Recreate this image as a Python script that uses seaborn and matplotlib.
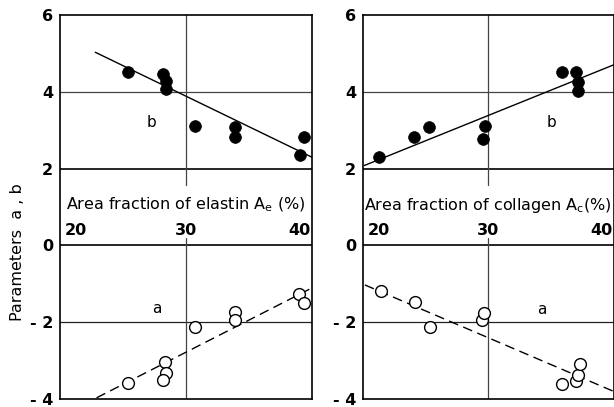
import matplotlib
matplotlib.use("Agg")
import matplotlib.pyplot as plt
import seaborn as sns
import pandas as pd

# ---- data: elastin panel ----
elastin_b_x = [25.4, 28.2, 28.4, 28.4, 30.7, 33.9, 33.9, 39.05, 39.4]
elastin_b_y = [4.51, 4.46, 4.28, 4.07, 3.12, 3.09, 2.81, 2.35, 2.83]
elastin_a_x = [25.4, 28.3, 28.4, 28.2, 30.7, 33.9, 33.9, 39.0, 39.4]
elastin_a_y = [-3.58, -3.04, -3.33, -3.51, -2.13, -1.74, -1.94, -1.27, -1.51]
elastin_b_fit_x = [22.8, 40.1]
elastin_b_fit_y = [5.03, 2.28]
elastin_a_fit_x = [22.9, 40.1]
elastin_a_fit_y = [-3.97, -1.09]

# ---- data: collagen panel ----
collagen_b_x = [21.3, 24.07, 25.24, 29.55, 29.74, 35.85, 37.04, 37.17, 37.2]
collagen_b_y = [2.29, 2.81, 3.08, 2.76, 3.12, 4.51, 4.52, 4.26, 4.03]
collagen_a_x = [21.4, 24.13, 25.37, 29.5, 29.68, 35.9, 37.04, 37.17, 37.3]
collagen_a_y = [-1.18, -1.47, -2.13, -1.94, -1.77, -3.61, -3.53, -3.375, -3.09]
collagen_b_fit_x = [20.1, 40.0]
collagen_b_fit_y = [2.08, 4.70]
collagen_a_fit_x = [20.15, 40.0]
collagen_a_fit_y = [-1.03, -3.80]

y_ticks = [6, 4, 2, 0, -2, -4]
y_tick_labels = ["6", "4", "2", "0", "- 2", "- 4"]
x_tick_values = [20, 30, 40]
x_tick_labels = ["20", "30", "40"]
x_labels = ["Area fraction of elastin A$_\\mathregular{e}$ (%)",
            "Area fraction of collagen A$_\\mathregular{c}$(%)"]
y_label = "Parameters  a , b"

sns.set_style("white")
plt.rcParams["font.family"] = ["DejaVu Sans"]
plt.rcParams["text.color"] = "black"
plt.rcParams["ytick.color"] = "black"
plt.rcParams["ytick.labelcolor"] = "black"

fig = plt.figure(figsize=(6.14, 4.07), dpi=100)
W, H = 614, 407
bottom = (H - 399) / H
height = 384 / H
ax1 = fig.add_axes([60 / W, bottom, 252 / W, height])
ax2 = fig.add_axes([363 / W, bottom, 250.5 / W, height])

panels = [
    (ax1, elastin_b_x, elastin_b_y, elastin_a_x, elastin_a_y,
     elastin_b_fit_x, elastin_b_fit_y, elastin_a_fit_x, elastin_a_fit_y,
     (27.3, 3.2), (27.7, -1.64)),
    (ax2, collagen_b_x, collagen_b_y, collagen_a_x, collagen_a_y,
     collagen_b_fit_x, collagen_b_fit_y, collagen_a_fit_x, collagen_a_fit_y,
     (35.05, 3.2), (34.3, -1.66)),
]

for i, (ax, bx, by, axx, ay, bfx, bfy, afx, afy, bpos, apos) in enumerate(panels):
    ax.set_xlim(20, 40)
    ax.set_ylim(-4, 6)
    # grid-like reference lines
    ax.axhline(4, color="#444444", lw=0.9, zorder=1)
    ax.axhline(-2, color="#222222", lw=0.9, zorder=1)
    ax.axhline(2, color="black", lw=1.2, zorder=1)
    ax.axhline(0, color="black", lw=1.2, zorder=1)
    ax.plot([30, 30], [6, 1.57], color="#444444", lw=0.9, zorder=1)
    ax.plot([30, 30], [0.2, -4], color="#444444", lw=0.9, zorder=1)

    sns.lineplot(x=bfx, y=bfy, ax=ax, color="black", lw=1.0, zorder=2)
    sns.lineplot(x=afx, y=afy, ax=ax, color="black", lw=1.0, zorder=2,
                 dashes=False).lines[-1].set_dashes((7, 4))
    sns.scatterplot(x=bx, y=by, ax=ax, color="black", s=72,
                    edgecolor="black", linewidth=0.5, zorder=3)
    sns.scatterplot(x=axx, y=ay, ax=ax, color="white", s=72,
                    edgecolor="black", linewidth=1.0, zorder=3)

    ax.text(bpos[0], bpos[1], "b", fontsize=11, ha="center", va="center",
            color="black")
    ax.text(apos[0], apos[1], "a", fontsize=11, ha="center", va="center",
            color="black")

    ax.text(30, 1.05, x_labels[i], fontsize=11.5, ha="center", va="center",
            color="black")
    for v, lab in zip(x_tick_values, x_tick_labels):
        ha = "left" if v == 20 else ("right" if v == 40 else "center")
        xx = 20.4 if v == 20 else (39.9 if v == 40 else v)
        ax.text(xx, 0.38, lab, fontsize=11.5, ha=ha, va="center",
                fontweight="bold", color="black")

    ax.set_xticks([])
    ax.set_yticks(y_ticks)
    ax.set_yticklabels(y_tick_labels, fontsize=11.5, fontweight="bold",
                       color="black")
    ax.tick_params(axis="y", length=0, pad=5)
    ax.set_xlabel("")
    ax.set_ylabel("")
    for sp in ax.spines.values():
        sp.set_visible(True)
        sp.set_color("black")
        sp.set_linewidth(1.2)

fig.text(18 / W, 1 - 252 / H, y_label, rotation=90, fontsize=11.5,
         ha="center", va="center", color="black")

fig.savefig("out.png", dpi=100)
